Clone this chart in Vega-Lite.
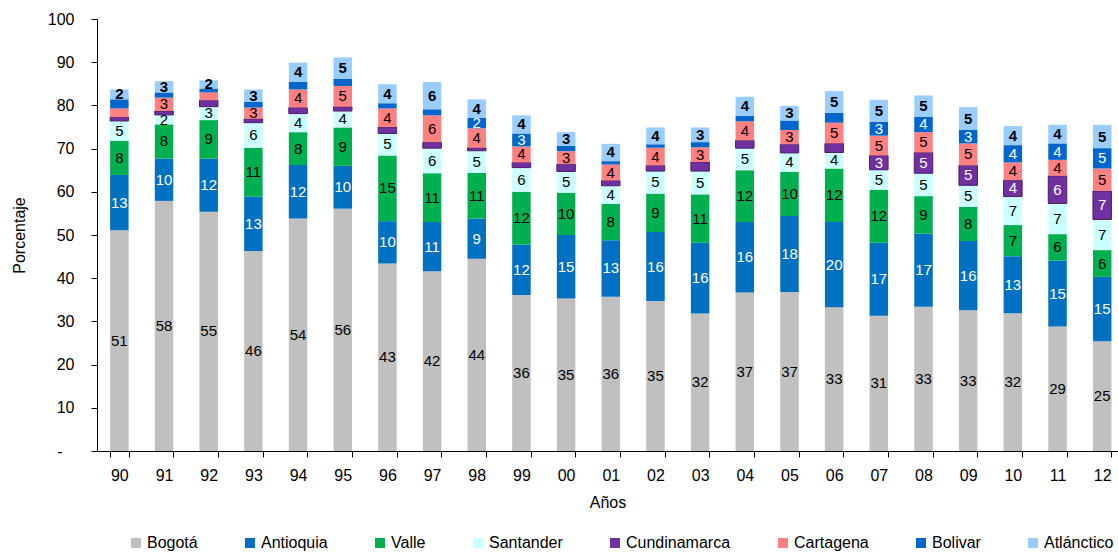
{
"$schema": "https://vega.github.io/schema/vega-lite/v6.json",
"width": 1021, "height": 432,
"autosize": "none",
"padding": {"left": 97, "top": 19, "right": 0, "bottom": 101},
"background": "white",
"config": {"font": "Liberation Sans", "view": {"stroke": null}, "axis": {"grid": false, "domainColor": "#000000", "tickColor": "#000000", "labelColor": "#000000", "titleColor": "#000000", "labelFontSize": 16, "titleFontSize": 16, "titleFontWeight": "normal"}},
"data": {"values": [
{"anio":"90","region":"Bogotá","orden":1,"valor":51.1,"etiqueta":"51"},{"anio":"90","region":"Antioquia","orden":2,"valor":12.8,"etiqueta":"13"},{"anio":"90","region":"Valle","orden":3,"valor":7.9,"etiqueta":"8"},{"anio":"90","region":"Santander","orden":4,"valor":4.6,"etiqueta":"5"},{"anio":"90","region":"Cundinamarca","orden":5,"valor":0.9,"etiqueta":""},{"anio":"90","region":"Cartagena","orden":6,"valor":2.0,"etiqueta":""},{"anio":"90","region":"Bolivar","orden":7,"valor":2.1,"etiqueta":""},{"anio":"90","region":"Atlánctico","orden":8,"valor":2.3,"etiqueta":"2"},
{"anio":"91","region":"Bogotá","orden":1,"valor":57.9,"etiqueta":"58"},{"anio":"91","region":"Antioquia","orden":2,"valor":9.8,"etiqueta":"10"},{"anio":"91","region":"Valle","orden":3,"valor":7.9,"etiqueta":"8"},{"anio":"91","region":"Santander","orden":4,"valor":2.2,"etiqueta":"2"},{"anio":"91","region":"Cundinamarca","orden":5,"valor":0.9,"etiqueta":""},{"anio":"91","region":"Cartagena","orden":6,"valor":3.1,"etiqueta":"3"},{"anio":"91","region":"Bolivar","orden":7,"valor":1.2,"etiqueta":""},{"anio":"91","region":"Atlánctico","orden":8,"valor":2.6,"etiqueta":"3"},
{"anio":"92","region":"Bogotá","orden":1,"valor":55.4,"etiqueta":"55"},{"anio":"92","region":"Antioquia","orden":2,"valor":12.3,"etiqueta":"12"},{"anio":"92","region":"Valle","orden":3,"valor":8.9,"etiqueta":"9"},{"anio":"92","region":"Santander","orden":4,"valor":3.1,"etiqueta":"3"},{"anio":"92","region":"Cundinamarca","orden":5,"valor":1.5,"etiqueta":""},{"anio":"92","region":"Cartagena","orden":6,"valor":1.8,"etiqueta":""},{"anio":"92","region":"Bolivar","orden":7,"valor":0.9,"etiqueta":""},{"anio":"92","region":"Atlánctico","orden":8,"valor":1.9,"etiqueta":"2"},
{"anio":"93","region":"Bogotá","orden":1,"valor":46.3,"etiqueta":"46"},{"anio":"93","region":"Antioquia","orden":2,"valor":12.6,"etiqueta":"13"},{"anio":"93","region":"Valle","orden":3,"valor":11.3,"etiqueta":"11"},{"anio":"93","region":"Santander","orden":4,"valor":5.8,"etiqueta":"6"},{"anio":"93","region":"Cundinamarca","orden":5,"valor":0.9,"etiqueta":""},{"anio":"93","region":"Cartagena","orden":6,"valor":2.6,"etiqueta":"3"},{"anio":"93","region":"Bolivar","orden":7,"valor":1.3,"etiqueta":""},{"anio":"93","region":"Atlánctico","orden":8,"valor":2.9,"etiqueta":"3"},
{"anio":"94","region":"Bogotá","orden":1,"valor":53.8,"etiqueta":"54"},{"anio":"94","region":"Antioquia","orden":2,"valor":12.4,"etiqueta":"12"},{"anio":"94","region":"Valle","orden":3,"valor":7.6,"etiqueta":"8"},{"anio":"94","region":"Santander","orden":4,"valor":4.3,"etiqueta":"4"},{"anio":"94","region":"Cundinamarca","orden":5,"valor":1.4,"etiqueta":""},{"anio":"94","region":"Cartagena","orden":6,"valor":4.2,"etiqueta":"4"},{"anio":"94","region":"Bolivar","orden":7,"valor":1.8,"etiqueta":""},{"anio":"94","region":"Atlánctico","orden":8,"valor":4.4,"etiqueta":"4"},
{"anio":"95","region":"Bogotá","orden":1,"valor":56.1,"etiqueta":"56"},{"anio":"95","region":"Antioquia","orden":2,"valor":9.9,"etiqueta":"10"},{"anio":"95","region":"Valle","orden":3,"valor":8.9,"etiqueta":"9"},{"anio":"95","region":"Santander","orden":4,"valor":3.8,"etiqueta":"4"},{"anio":"95","region":"Cundinamarca","orden":5,"valor":1.0,"etiqueta":""},{"anio":"95","region":"Cartagena","orden":6,"valor":4.8,"etiqueta":"5"},{"anio":"95","region":"Bolivar","orden":7,"valor":1.7,"etiqueta":""},{"anio":"95","region":"Atlánctico","orden":8,"valor":4.9,"etiqueta":"5"},
{"anio":"96","region":"Bogotá","orden":1,"valor":43.4,"etiqueta":"43"},{"anio":"96","region":"Antioquia","orden":2,"valor":9.8,"etiqueta":"10"},{"anio":"96","region":"Valle","orden":3,"valor":15.2,"etiqueta":"15"},{"anio":"96","region":"Santander","orden":4,"valor":5.1,"etiqueta":"5"},{"anio":"96","region":"Cundinamarca","orden":5,"valor":1.5,"etiqueta":""},{"anio":"96","region":"Cartagena","orden":6,"valor":4.3,"etiqueta":"4"},{"anio":"96","region":"Bolivar","orden":7,"valor":1.2,"etiqueta":""},{"anio":"96","region":"Atlánctico","orden":8,"valor":4.4,"etiqueta":"4"},
{"anio":"97","region":"Bogotá","orden":1,"valor":41.6,"etiqueta":"42"},{"anio":"97","region":"Antioquia","orden":2,"valor":11.4,"etiqueta":"11"},{"anio":"97","region":"Valle","orden":3,"valor":11.3,"etiqueta":"11"},{"anio":"97","region":"Santander","orden":4,"valor":5.8,"etiqueta":"6"},{"anio":"97","region":"Cundinamarca","orden":5,"valor":1.4,"etiqueta":""},{"anio":"97","region":"Cartagena","orden":6,"valor":6.2,"etiqueta":"6"},{"anio":"97","region":"Bolivar","orden":7,"valor":1.4,"etiqueta":""},{"anio":"97","region":"Atlánctico","orden":8,"valor":6.3,"etiqueta":"6"},
{"anio":"98","region":"Bogotá","orden":1,"valor":44.5,"etiqueta":"44"},{"anio":"98","region":"Antioquia","orden":2,"valor":9.3,"etiqueta":"9"},{"anio":"98","region":"Valle","orden":3,"valor":10.6,"etiqueta":"11"},{"anio":"98","region":"Santander","orden":4,"valor":5.1,"etiqueta":"5"},{"anio":"98","region":"Cundinamarca","orden":5,"valor":0.7,"etiqueta":""},{"anio":"98","region":"Cartagena","orden":6,"valor":4.5,"etiqueta":"4"},{"anio":"98","region":"Bolivar","orden":7,"valor":2.4,"etiqueta":"2"},{"anio":"98","region":"Atlánctico","orden":8,"valor":4.3,"etiqueta":"4"},
{"anio":"99","region":"Bogotá","orden":1,"valor":36.1,"etiqueta":"36"},{"anio":"99","region":"Antioquia","orden":2,"valor":11.7,"etiqueta":"12"},{"anio":"99","region":"Valle","orden":3,"valor":12.2,"etiqueta":"12"},{"anio":"99","region":"Santander","orden":4,"valor":5.6,"etiqueta":"6"},{"anio":"99","region":"Cundinamarca","orden":5,"valor":1.2,"etiqueta":""},{"anio":"99","region":"Cartagena","orden":6,"valor":3.7,"etiqueta":"4"},{"anio":"99","region":"Bolivar","orden":7,"valor":3.0,"etiqueta":"3"},{"anio":"99","region":"Atlánctico","orden":8,"valor":4.2,"etiqueta":"4"},
{"anio":"00","region":"Bogotá","orden":1,"valor":35.3,"etiqueta":"35"},{"anio":"00","region":"Antioquia","orden":2,"valor":14.7,"etiqueta":"15"},{"anio":"00","region":"Valle","orden":3,"valor":9.8,"etiqueta":"10"},{"anio":"00","region":"Santander","orden":4,"valor":4.9,"etiqueta":"5"},{"anio":"00","region":"Cundinamarca","orden":5,"valor":1.7,"etiqueta":""},{"anio":"00","region":"Cartagena","orden":6,"valor":3.0,"etiqueta":"3"},{"anio":"00","region":"Bolivar","orden":7,"valor":1.2,"etiqueta":""},{"anio":"00","region":"Atlánctico","orden":8,"valor":3.2,"etiqueta":"3"},
{"anio":"01","region":"Bogotá","orden":1,"valor":35.7,"etiqueta":"36"},{"anio":"01","region":"Antioquia","orden":2,"valor":13.1,"etiqueta":"13"},{"anio":"01","region":"Valle","orden":3,"valor":8.4,"etiqueta":"8"},{"anio":"01","region":"Santander","orden":4,"valor":4.2,"etiqueta":"4"},{"anio":"01","region":"Cundinamarca","orden":5,"valor":1.2,"etiqueta":""},{"anio":"01","region":"Cartagena","orden":6,"valor":3.7,"etiqueta":"4"},{"anio":"01","region":"Bolivar","orden":7,"valor":0.8,"etiqueta":""},{"anio":"01","region":"Atlánctico","orden":8,"valor":4.0,"etiqueta":"4"},
{"anio":"02","region":"Bogotá","orden":1,"valor":34.7,"etiqueta":"35"},{"anio":"02","region":"Antioquia","orden":2,"valor":16.0,"etiqueta":"16"},{"anio":"02","region":"Valle","orden":3,"valor":8.9,"etiqueta":"9"},{"anio":"02","region":"Santander","orden":4,"valor":5.2,"etiqueta":"5"},{"anio":"02","region":"Cundinamarca","orden":5,"valor":1.3,"etiqueta":""},{"anio":"02","region":"Cartagena","orden":6,"valor":4.1,"etiqueta":"4"},{"anio":"02","region":"Bolivar","orden":7,"valor":0.8,"etiqueta":""},{"anio":"02","region":"Atlánctico","orden":8,"valor":3.9,"etiqueta":"4"},
{"anio":"03","region":"Bogotá","orden":1,"valor":31.8,"etiqueta":"32"},{"anio":"03","region":"Antioquia","orden":2,"valor":16.4,"etiqueta":"16"},{"anio":"03","region":"Valle","orden":3,"valor":11.2,"etiqueta":"11"},{"anio":"03","region":"Santander","orden":4,"valor":5.4,"etiqueta":"5"},{"anio":"03","region":"Cundinamarca","orden":5,"valor":2.1,"etiqueta":""},{"anio":"03","region":"Cartagena","orden":6,"valor":3.4,"etiqueta":"3"},{"anio":"03","region":"Bolivar","orden":7,"valor":1.2,"etiqueta":""},{"anio":"03","region":"Atlánctico","orden":8,"valor":3.4,"etiqueta":"3"},
{"anio":"04","region":"Bogotá","orden":1,"valor":36.7,"etiqueta":"37"},{"anio":"04","region":"Antioquia","orden":2,"valor":16.3,"etiqueta":"16"},{"anio":"04","region":"Valle","orden":3,"valor":12.0,"etiqueta":"12"},{"anio":"04","region":"Santander","orden":4,"valor":5.1,"etiqueta":"5"},{"anio":"04","region":"Cundinamarca","orden":5,"valor":1.8,"etiqueta":""},{"anio":"04","region":"Cartagena","orden":6,"valor":4.4,"etiqueta":"4"},{"anio":"04","region":"Bolivar","orden":7,"valor":1.3,"etiqueta":""},{"anio":"04","region":"Atlánctico","orden":8,"valor":4.4,"etiqueta":"4"},
{"anio":"05","region":"Bogotá","orden":1,"valor":36.8,"etiqueta":"37"},{"anio":"05","region":"Antioquia","orden":2,"valor":17.6,"etiqueta":"18"},{"anio":"05","region":"Valle","orden":3,"valor":10.2,"etiqueta":"10"},{"anio":"05","region":"Santander","orden":4,"valor":4.4,"etiqueta":"4"},{"anio":"05","region":"Cundinamarca","orden":5,"valor":2.0,"etiqueta":""},{"anio":"05","region":"Cartagena","orden":6,"valor":3.3,"etiqueta":"3"},{"anio":"05","region":"Bolivar","orden":7,"valor":2.2,"etiqueta":""},{"anio":"05","region":"Atlánctico","orden":8,"valor":3.4,"etiqueta":"3"},
{"anio":"06","region":"Bogotá","orden":1,"valor":33.3,"etiqueta":"33"},{"anio":"06","region":"Antioquia","orden":2,"valor":19.7,"etiqueta":"20"},{"anio":"06","region":"Valle","orden":3,"valor":12.4,"etiqueta":"12"},{"anio":"06","region":"Santander","orden":4,"valor":3.7,"etiqueta":"4"},{"anio":"06","region":"Cundinamarca","orden":5,"valor":2.1,"etiqueta":""},{"anio":"06","region":"Cartagena","orden":6,"valor":4.8,"etiqueta":"5"},{"anio":"06","region":"Bolivar","orden":7,"valor":2.3,"etiqueta":""},{"anio":"06","region":"Atlánctico","orden":8,"valor":5.0,"etiqueta":"5"},
{"anio":"07","region":"Bogotá","orden":1,"valor":31.3,"etiqueta":"31"},{"anio":"07","region":"Antioquia","orden":2,"valor":16.9,"etiqueta":"17"},{"anio":"07","region":"Valle","orden":3,"valor":12.3,"etiqueta":"12"},{"anio":"07","region":"Santander","orden":4,"valor":4.6,"etiqueta":"5"},{"anio":"07","region":"Cundinamarca","orden":5,"valor":3.3,"etiqueta":"3"},{"anio":"07","region":"Cartagena","orden":6,"valor":4.6,"etiqueta":"5"},{"anio":"07","region":"Bolivar","orden":7,"valor":3.2,"etiqueta":"3"},{"anio":"07","region":"Atlánctico","orden":8,"valor":5.1,"etiqueta":"5"},
{"anio":"08","region":"Bogotá","orden":1,"valor":33.4,"etiqueta":"33"},{"anio":"08","region":"Antioquia","orden":2,"valor":16.9,"etiqueta":"17"},{"anio":"08","region":"Valle","orden":3,"valor":8.7,"etiqueta":"9"},{"anio":"08","region":"Santander","orden":4,"valor":5.3,"etiqueta":"5"},{"anio":"08","region":"Cundinamarca","orden":5,"valor":4.8,"etiqueta":"5"},{"anio":"08","region":"Cartagena","orden":6,"valor":4.7,"etiqueta":"5"},{"anio":"08","region":"Bolivar","orden":7,"valor":3.6,"etiqueta":"4"},{"anio":"08","region":"Atlánctico","orden":8,"valor":4.9,"etiqueta":"5"},
{"anio":"09","region":"Bogotá","orden":1,"valor":32.6,"etiqueta":"33"},{"anio":"09","region":"Antioquia","orden":2,"valor":16.0,"etiqueta":"16"},{"anio":"09","region":"Valle","orden":3,"valor":7.9,"etiqueta":"8"},{"anio":"09","region":"Santander","orden":4,"valor":5.0,"etiqueta":"5"},{"anio":"09","region":"Cundinamarca","orden":5,"valor":4.6,"etiqueta":"5"},{"anio":"09","region":"Cartagena","orden":6,"valor":5.1,"etiqueta":"5"},{"anio":"09","region":"Bolivar","orden":7,"valor":3.1,"etiqueta":"3"},{"anio":"09","region":"Atlánctico","orden":8,"valor":5.3,"etiqueta":"5"},
{"anio":"10","region":"Bogotá","orden":1,"valor":31.9,"etiqueta":"32"},{"anio":"10","region":"Antioquia","orden":2,"valor":13.2,"etiqueta":"13"},{"anio":"10","region":"Valle","orden":3,"valor":7.2,"etiqueta":"7"},{"anio":"10","region":"Santander","orden":4,"valor":6.6,"etiqueta":"7"},{"anio":"10","region":"Cundinamarca","orden":5,"valor":3.8,"etiqueta":"4"},{"anio":"10","region":"Cartagena","orden":6,"valor":4.1,"etiqueta":"4"},{"anio":"10","region":"Bolivar","orden":7,"valor":4.0,"etiqueta":"4"},{"anio":"10","region":"Atlánctico","orden":8,"valor":4.4,"etiqueta":"4"},
{"anio":"11","region":"Bogotá","orden":1,"valor":28.8,"etiqueta":"29"},{"anio":"11","region":"Antioquia","orden":2,"valor":15.3,"etiqueta":"15"},{"anio":"11","region":"Valle","orden":3,"valor":6.1,"etiqueta":"6"},{"anio":"11","region":"Santander","orden":4,"valor":7.1,"etiqueta":"7"},{"anio":"11","region":"Cundinamarca","orden":5,"valor":6.4,"etiqueta":"6"},{"anio":"11","region":"Cartagena","orden":6,"valor":3.7,"etiqueta":"4"},{"anio":"11","region":"Bolivar","orden":7,"valor":3.8,"etiqueta":"4"},{"anio":"11","region":"Atlánctico","orden":8,"valor":4.3,"etiqueta":"4"},
{"anio":"12","region":"Bogotá","orden":1,"valor":25.4,"etiqueta":"25"},{"anio":"12","region":"Antioquia","orden":2,"valor":14.9,"etiqueta":"15"},{"anio":"12","region":"Valle","orden":3,"valor":6.2,"etiqueta":"6"},{"anio":"12","region":"Santander","orden":4,"valor":7.1,"etiqueta":"7"},{"anio":"12","region":"Cundinamarca","orden":5,"valor":6.6,"etiqueta":"7"},{"anio":"12","region":"Cartagena","orden":6,"valor":5.2,"etiqueta":"5"},{"anio":"12","region":"Bolivar","orden":7,"valor":4.7,"etiqueta":"5"},{"anio":"12","region":"Atlánctico","orden":8,"valor":5.4,"etiqueta":"5"}
]},
"encoding": {
  "x": {"field": "anio", "type": "nominal", "sort": null,
        "scale": {"paddingInner": 0.586, "paddingOuter": 0.22, "align": 0.667},
        "axis": {"title": "Años", "labelAngle": 0, "tickBand": "extent", "tickSize": 6, "labelPadding": 10, "titlePadding": 11}}
},
"layer": [
  {"mark": {"type": "bar", "strokeWidth": 1},
   "encoding": {
     "y": {"field": "valor", "type": "quantitative", "stack": "zero",
           "scale": {"domain": [0, 100], "nice": false},
           "axis": {"title": "Porcentaje", "values": [0,10,20,30,40,50,60,70,80,90,100], "tickSize": 6, "titlePadding": 20,
                    "labelPadding": {"condition": {"test": "datum.value == 0", "value": 29}, "value": 17},
                    "labelExpr": "datum.value == 0 ? '-' : datum.label"}},
     "color": {"field": "region", "type": "nominal",
               "scale": {"domain": ["Bogotá","Antioquia","Valle","Santander","Cundinamarca","Cartagena","Bolivar","Atlánctico"],
                         "range": ["#C0C0C0","#0070C0","#00B050","#CCFFFF","#7030A0","#FF8080","#0066CC","#99CCFF"]},
               "legend": {"orient": "none", "legendX": 31, "legendY": 516, "direction": "horizontal", "columns": 8, "title": null,
                          "symbolType": "square", "symbolSize": 100, "symbolStrokeWidth": 0, "labelFontSize": 16, "labelColor": "#000000",
                          "columnPadding": 44, "labelOffset": 3}},
     "stroke": {"condition": {"test": "datum.region == 'Cundinamarca'", "value": "#4B1C6E"}, "value": "transparent"},
     "order": {"field": "orden", "type": "quantitative"}
   }},
  {"mark": {"type": "text", "fontSize": 15},
   "encoding": {
     "y": {"field": "valor", "type": "quantitative", "stack": "zero", "bandPosition": 0.5},
     "detail": {"field": "region"},
     "order": {"field": "orden", "type": "quantitative"},
     "text": {"condition": {"test": "datum.region != 'Atlánctico'", "field": "etiqueta", "type": "nominal"}, "value": ""},
     "color": {"condition": {"test": "indexof(['Antioquia','Cundinamarca','Bolivar'], datum.region) >= 0", "value": "#FFFFFF"}, "value": "#000000"}
   }},
  {"mark": {"type": "text", "fontSize": 15, "fontWeight": "bold", "color": "#000000"},
   "encoding": {
     "y": {"field": "valor", "type": "quantitative", "stack": "zero", "bandPosition": 0.5},
     "detail": {"field": "region"},
     "order": {"field": "orden", "type": "quantitative"},
     "text": {"condition": {"test": "datum.region == 'Atlánctico'", "field": "etiqueta", "type": "nominal"}, "value": ""}
   }}
]
}
